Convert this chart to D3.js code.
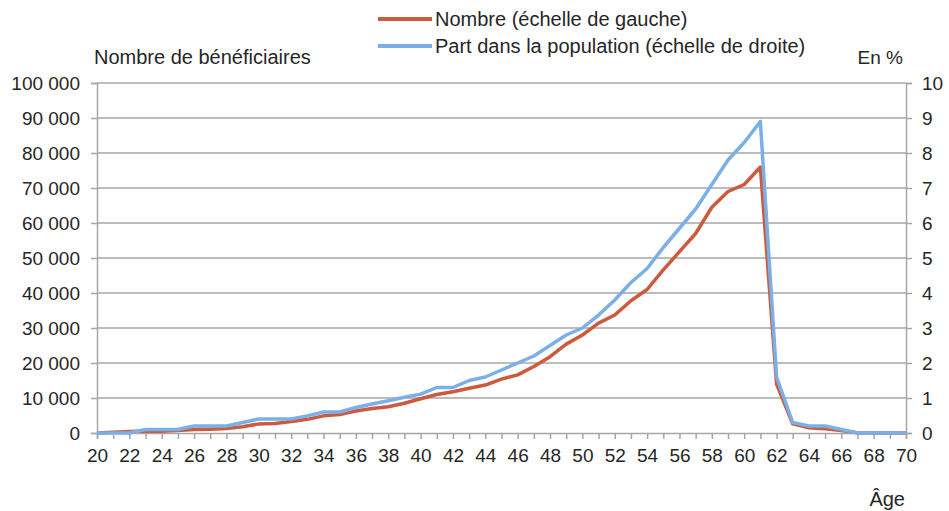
<!doctype html>
<html>
<head>
<meta charset="utf-8">
<title>Bénéficiaires par âge</title>
<script src="https://cdnjs.cloudflare.com/ajax/libs/d3/7.8.5/d3.min.js"></script>
<style>
  body { margin: 0; background: #fff; }
  text { font-family: "Liberation Sans", Arial, sans-serif; fill: #262626; }
</style>
</head>
<body>
<div id="chart"></div>
<script>
// ages 20..70
var ages = d3.range(20, 71);

// Nombre de bénéficiaires (échelle de gauche)
var nombre = [0, 200, 400, 600, 500, 700, 1000, 1100, 1300, 1800,
              2600, 2700, 3300, 3900, 4900, 5300, 6300, 7000, 7500, 8500,
              9800, 11000, 11800, 12800, 13700, 15400, 16600, 19000, 21800, 25400,
              28000, 31400, 33700, 37800, 41000, 46600, 51800, 57000, 64500, 69000,
              71000, 76000, 14000, 2600, 1500, 1200, 700, 100, 0, 0, 0];

// Part dans la population, en % (échelle de droite)
var part = [0, 0, 0, 0.1, 0.1, 0.1, 0.2, 0.2, 0.2, 0.3,
            0.4, 0.4, 0.4, 0.49, 0.6, 0.6, 0.73, 0.83, 0.92, 1.02,
            1.11, 1.3, 1.3, 1.5, 1.6, 1.8, 2.0, 2.2, 2.5, 2.8,
            3.0, 3.37, 3.8, 4.3, 4.7, 5.3, 5.85, 6.4, 7.1, 7.8,
            8.3, 8.9, 1.6, 0.3, 0.2, 0.2, 0.1, 0, 0, 0, 0];

var leftTicks = d3.range(0, 100001, 10000);
var rightTicks = d3.range(0, 11, 1);

var width = 949, height = 511;
var plot = {left: 97, right: 906, top: 83, bottom: 433};

var svg = d3.select("#chart").append("svg")
    .attr("width", width)
    .attr("height", height);

var x = d3.scaleLinear().domain([20, 70]).range([plot.left, plot.right]);
var yL = d3.scaleLinear().domain([0, 100000]).range([plot.bottom, plot.top]);
var yR = d3.scaleLinear().domain([0, 10]).range([plot.bottom, plot.top]);

var grey = "#a6a6a6";
var fmt = function(d) { return d3.format(",")(d).replace(/,/g, " "); };

// gridlines
svg.append("g").selectAll("line")
    .data(leftTicks.slice(1))
    .enter().append("line")
    .attr("x1", plot.left).attr("x2", plot.right)
    .attr("y1", function(d) { return yL(d); })
    .attr("y2", function(d) { return yL(d); })
    .style("stroke", grey).style("stroke-width", 1.5);

// left axis
var gL = svg.append("g")
    .attr("transform", "translate(" + plot.left + ",0)")
    .call(d3.axisLeft(yL).tickValues(leftTicks).tickFormat(fmt).tickSize(6).tickPadding(11));

// right axis
var gR = svg.append("g")
    .attr("transform", "translate(" + plot.right + ",0)")
    .call(d3.axisRight(yR).tickValues(rightTicks).tickFormat(d3.format("d")).tickSize(6).tickPadding(10));

// x axis, a tick every year, labels every 2
var gX = svg.append("g")
    .attr("transform", "translate(0," + plot.bottom + ")")
    .call(d3.axisBottom(x).tickValues(ages)
        .tickFormat(function(d) { return d % 2 === 0 ? d : ""; })
        .tickSize(6).tickPadding(10));

[gL, gR, gX].forEach(function(g) {
  g.select(".domain").style("stroke", grey).style("stroke-width", 1.5);
  g.selectAll(".tick line").style("stroke", grey).style("stroke-width", 1.5);
  g.selectAll("text").style("font-size", "19px")
      .style("font-family", "'Liberation Sans', Arial, sans-serif").style("fill", "#262626");
});

// lines
var lineL = d3.line()
    .x(function(d, i) { return x(ages[i]); })
    .y(function(d) { return yL(d); });
var lineR = d3.line()
    .x(function(d, i) { return x(ages[i]); })
    .y(function(d) { return yR(d); });

svg.append("path").datum(nombre)
    .attr("d", lineL)
    .style("fill", "none").style("stroke", "#cc5a3f")
    .style("stroke-width", 3.5).style("stroke-linejoin", "round");

svg.append("path").datum(part)
    .attr("d", lineR)
    .style("fill", "none").style("stroke", "#7ab0e7")
    .style("stroke-width", 3.5).style("stroke-linejoin", "round");

// axis titles
svg.append("text").attr("x", 94).attr("y", 64)
    .style("font-size", "20px").text("Nombre de bénéficiaires");
svg.append("text").attr("x", 903).attr("y", 64)
    .attr("text-anchor", "end")
    .style("font-size", "19px").text("En %");
svg.append("text").attr("x", 905).attr("y", 506)
    .attr("text-anchor", "end")
    .style("font-size", "20px").text("Âge");

// legend
var legend = [
  {label: "Nombre (échelle de gauche)", color: "#cc5a3f"},
  {label: "Part dans la population (échelle de droite)", color: "#7ab0e7"}
];
var lg = svg.append("g").selectAll("g")
    .data(legend)
    .enter().append("g")
    .attr("transform", function(d, i) { return "translate(378," + (19 + i * 27) + ")"; });
lg.append("line")
    .attr("x1", 0).attr("x2", 54)
    .style("stroke", function(d) { return d.color; })
    .style("stroke-width", 4);
lg.append("text")
    .attr("x", 57).attr("y", 7)
    .style("font-size", "20px")
    .text(function(d) { return d.label; });
</script>
</body>
</html>
